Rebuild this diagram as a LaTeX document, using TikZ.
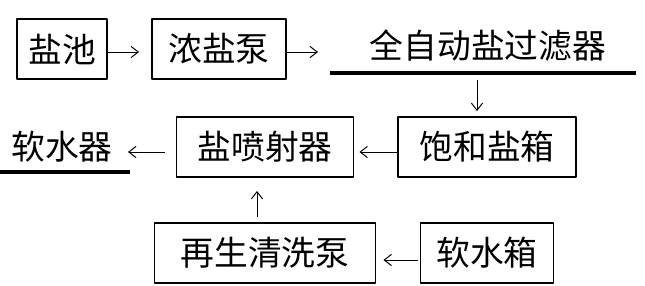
\documentclass[tikz,border=0pt]{standalone}
\usepackage{fontspec}
\newfontfamily\cjk{Noto Sans CJK SC}
\usetikzlibrary{positioning,arrows.meta}
\begin{document}
\begin{tikzpicture}[x=0.025cm, y=-0.025cm, >={Straight Barb[length=1.8mm, width=2.8mm]}, line join=round,
	every node/.style={font=\cjk\fontsize{24}{28}\selectfont},
	box/.style={draw, line width=1.3pt, minimum height=1.5cm, inner sep=0pt},
	flow/.style={->, line width=0.7pt},
	bar/.style={line width=3pt}]
	\useasboundingbox (0,0) rectangle (645,285);
	% Nodes
	\node[box, minimum width=2.25cm] (chi) at (62,49) {盐池};
	\node[box, minimum width=3.35cm] (beng) at (219,49) {浓盐泵};
	\node (filter) at (488,46) {全自动盐过滤器};
	\coordinate (fl) at (330,73); \coordinate (fr) at (636,73);
	\node[box, minimum width=4.45cm] (xiang) at (487,147) {饱和盐箱};
	\node[box, minimum width=4.425cm] (pen) at (265,147) {盐喷射器};
	\node (ruan) at (62,147) {软水器};
	\coordinate (rl) at (0,172); \coordinate (rr) at (130,172);
	\node[box, minimum width=5.525cm] (zai) at (265,253) {再生清洗泵};
	\node[box, minimum width=3.325cm] (shui) at (487,253) {软水箱};
	% Lines
	\draw[bar] (fl)--(fr);
	\draw[bar] (rl)--(rr);
	% Arrows
	\draw[flow, shorten >=0.3cm] ([yshift=-0.075cm]chi.east)--([yshift=-0.075cm]beng.west);
	\draw[flow, shorten >=0.3cm] ([yshift=-0.075cm]beng.east)--([yshift=-0.075cm]beng.east -| fl);
	\draw[flow, shorten <=0.175cm, shorten >=0.125cm] ([xshift=-0.25cm]xiang.north |- fl)--([xshift=-0.25cm]xiang.north);
	\draw[flow, shorten >=0.125cm] ([yshift=-0.125cm]xiang.west)--([yshift=-0.125cm]pen.east);
	\draw[flow, shorten <=0.275cm, shorten >=-0.05cm] ([yshift=-0.125cm]pen.west)--([yshift=-0.125cm]pen.west -| rr);
	\draw[flow, shorten <=0.125cm, shorten >=0.325cm] ([xshift=-0.2cm]zai.north)--([xshift=-0.2cm]pen.south);
	\draw[flow, shorten <=0.05cm, shorten >=0.175cm] ([yshift=-0.175cm]shui.west)--([yshift=-0.175cm]zai.east);
\end{tikzpicture}
\end{document}
